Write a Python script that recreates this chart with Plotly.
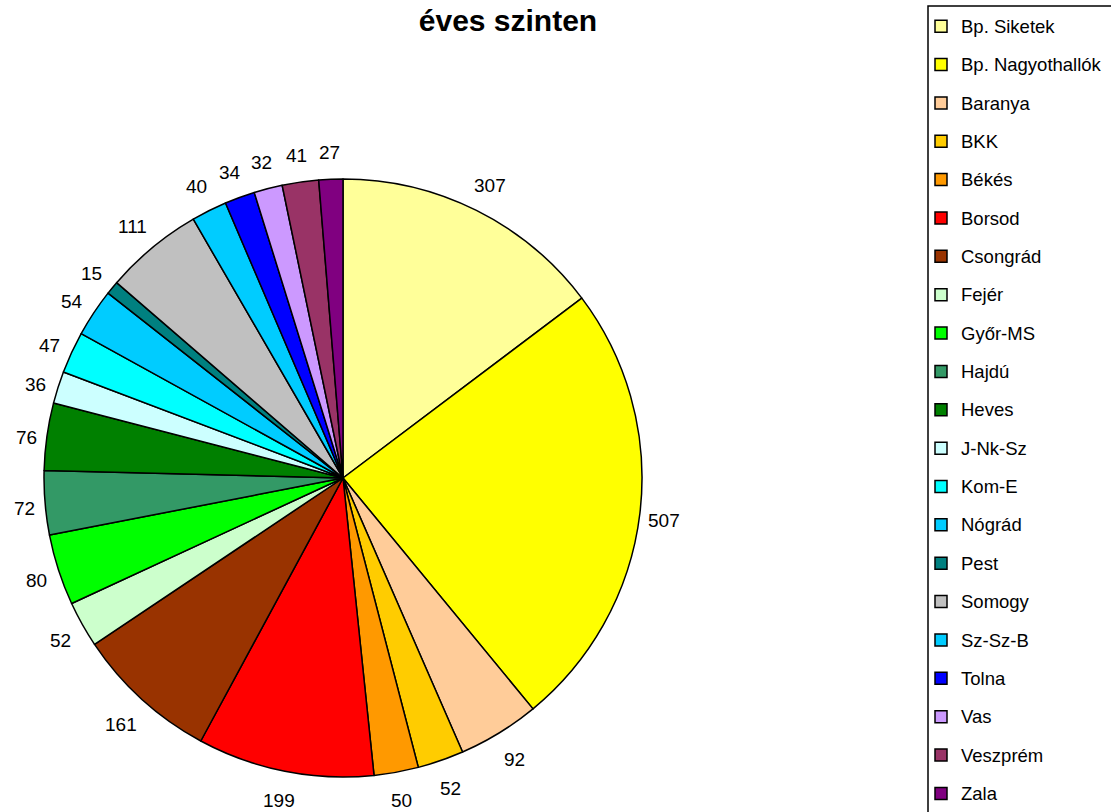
import math
import plotly.graph_objects as go

labels = ["Bp. Siketek", "Bp. Nagyothallók", "Baranya", "BKK", "Békés", "Borsod",
          "Csongrád", "Fejér", "Győr-MS", "Hajdú", "Heves", "J-Nk-Sz", "Kom-E",
          "Nógrád", "Pest", "Somogy", "Sz-Sz-B", "Tolna", "Vas", "Veszprém", "Zala"]
values = [307, 507, 92, 52, 50, 199, 161, 52, 80, 72, 76, 36, 47, 54, 15, 111, 40, 34, 32, 41, 27]
colors = ["#FFFF99", "#FFFF00", "#FFCC99", "#FFCC00", "#FF9900", "#FF0000",
          "#993300", "#CCFFCC", "#00FF00", "#339966", "#008000", "#CCFFFF", "#00FFFF",
          "#00CCFF", "#008080", "#C0C0C0", "#00CCFF", "#0000FF", "#CC99FF", "#993366", "#800080"]

W, H = 1111, 812

def px(X):  # screen x -> paper x
    return X / W

def py(Y):  # screen y -> paper y
    return 1 - Y / H

# pie geometry (screen px)
CX, CY, R = 343, 478, 299
FONT = "Liberation Sans, Arial"
LBL = 19

fig = go.Figure(go.Pie(
    labels=[f"<span style='font-size:18.5px;baseline-shift:4px'>{l}</span>" for l in labels],
    values=values, sort=False, direction="clockwise", rotation=0,
    marker=dict(colors=colors, line=dict(color="black", width=1.5)),
    textinfo="none",
    domain=dict(x=[px(CX - R), px(CX + R)], y=[py(CY + R), py(CY - R)]),
    hoverinfo="value+percent",
))

# value labels outside each slice, placed from the cumulative angles
total = sum(values)
cum = 0
annotations = []
for v in values:
    mid = (cum + v / 2) / total * 2 * math.pi
    cum += v
    s, c = math.sin(mid), math.cos(mid)
    w = len(str(v)) * 0.556 * LBL
    d = R + 12 + abs(s) * w / 3 + abs(c) * 15
    X, Y = CX + d * s, CY - d * c + 4 * abs(s)
    annotations.append(dict(x=px(X), y=py(Y), xref="paper", yref="paper",
                            text=str(v), showarrow=False, xanchor="center", yanchor="middle",
                            font=dict(family=FONT, size=LBL, color="black")))

fig.update_layout(
    width=W, height=H,
    margin=dict(l=0, r=0, t=0, b=0, autoexpand=False),
    paper_bgcolor="white", plot_bgcolor="white",
    font=dict(family=FONT, color="black"),
    title=dict(text="<b>éves szinten</b>", x=px(508), xanchor="center",
               y=py(20), yanchor="middle",
               font=dict(family=FONT, size=30, color="black")),
    legend=dict(x=px(921), xanchor="left", y=py(2), yanchor="top",
                borderwidth=0, bgcolor="rgba(0,0,0,0)", maxheight=900,
                font=dict(family=FONT, size=27.2, color="black"),
                traceorder="normal"),
    shapes=[dict(type="rect", xref="paper", yref="paper",
                 x0=px(928), x1=px(1125), y0=py(6), y1=py(830),
                 line=dict(color="black", width=1.5), fillcolor="rgba(0,0,0,0)",
                 layer="below")],
    annotations=annotations,
)
fig.write_html("out.html", post_script="document.body.style.margin='0';",
               config={"displayModeBar": False})
